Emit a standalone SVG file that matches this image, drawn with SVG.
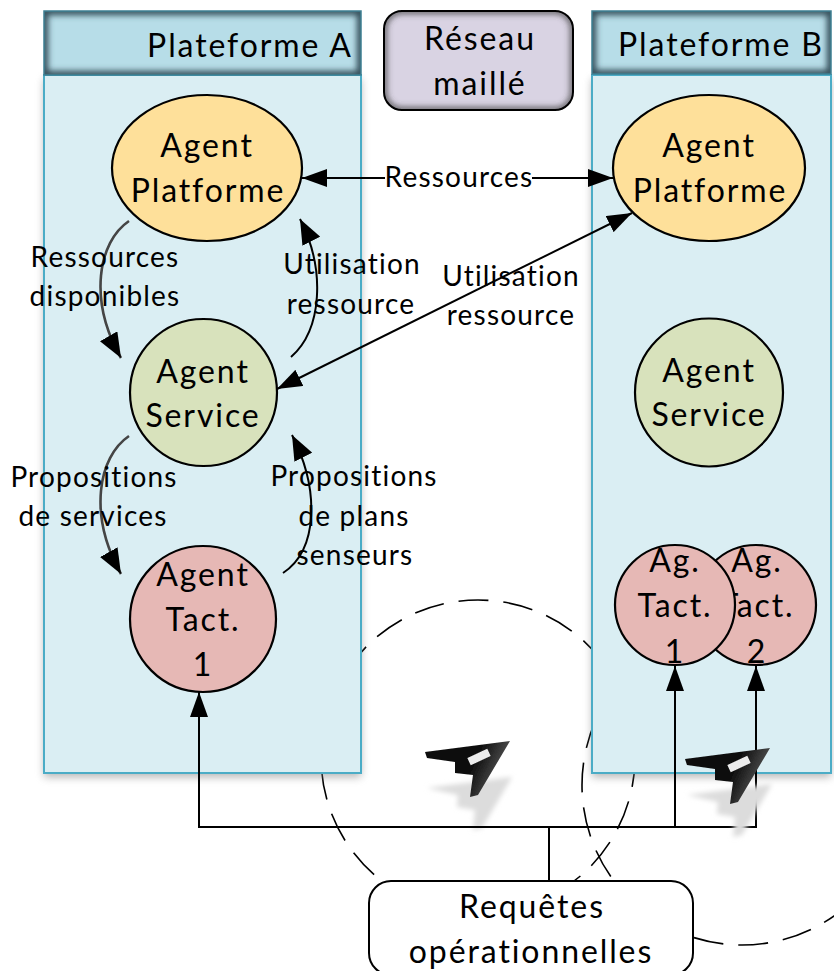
<svg xmlns="http://www.w3.org/2000/svg" width="834" height="971" viewBox="0 0 834 971">
<style>
text{font-family:"Lato","Liberation Sans",sans-serif;fill:#000;text-anchor:middle}
.n{font-size:32px;letter-spacing:1.9px}.l{font-size:28px;letter-spacing:1.2px}
.node{stroke:#000;stroke-width:2.2}
.dash{fill:none;stroke:#000;stroke-width:1.6;stroke-dasharray:30 15}
.c{fill:none;stroke:#000;stroke-width:2}
.cg{fill:none;stroke:#444;stroke-width:2.6;filter:url(#soft)}
.body{fill:#daeef3;stroke:#4bacc6;stroke-width:2}
</style>
<defs>
<marker id="a" viewBox="0 0 25 18" refX="25" refY="9" markerWidth="25" markerHeight="18" markerUnits="userSpaceOnUse" orient="auto-start-reverse"><path d="M0 0L25 9L0 18Z" fill="#000"/></marker>
<marker id="b" viewBox="0 0 25 20" refX="25" refY="10" markerWidth="25" markerHeight="20" markerUnits="userSpaceOnUse" orient="auto"><path d="M0 0L25 10L0 20Z" fill="#000"/></marker>
<filter id="soft" x="-30%" y="-10%" width="160%" height="120%"><feGaussianBlur stdDeviation="0.7"/></filter>
<filter id="sh" x="-10%" y="-10%" width="120%" height="120%"><feGaussianBlur stdDeviation="4"/></filter>
<filter id="in" x="-10%" y="-20%" width="120%" height="140%"><feGaussianBlur stdDeviation="3"/></filter>
<filter id="ps" x="-30%" y="-30%" width="160%" height="160%"><feGaussianBlur stdDeviation="2.500"/></filter>
<filter id="ab" x="-10%" y="-10%" width="120%" height="120%"><feGaussianBlur stdDeviation="0.5"/></filter>
<clipPath id="ca"><rect x="44" y="11" width="317" height="64"/></clipPath>
<clipPath id="cb"><rect x="592" y="11" width="239" height="63"/></clipPath>
<clipPath id="cr"><rect x="384" y="11" width="189" height="99" rx="18"/></clipPath>
<linearGradient id="pl" x1="0" y1="0" x2="1" y2="0.3"><stop offset="0" stop-color="#0a0a0a"/><stop offset=".65" stop-color="#111"/><stop offset="1" stop-color="#555"/></linearGradient>
<g id="plane">
<path d="M427 788L512 777L482 828L473 830L475 810L457 807L458 795Z" fill="#dcdcdc" filter="url(#ps)"/>
<path d="M425 752L510 741L478 795L470 797L473 775L455 773L455 762L427 758Z" fill="url(#pl)" filter="url(#ab)"/>
<rect x="468" y="753" width="22" height="8" fill="#ececec" transform="rotate(-25 479 757)" filter="url(#ab)"/>
</g>
</defs>
<g id="zones">
<circle class="dash" cx="478" cy="757" r="157"/>
<circle class="dash" cx="742" cy="785" r="160"/>
</g>
<g id="plateforme-a">
<rect x="44" y="75" width="317" height="698" fill="#777" opacity=".55" filter="url(#sh)" transform="translate(0 4)"/>
<rect class="body" x="44" y="75" width="317" height="698"/>
<rect x="44" y="11" width="317" height="64" fill="#b7dde8"/>
<rect x="44" y="11" width="317" height="64" fill="none" stroke="#2f4a54" stroke-width="8" filter="url(#in)" clip-path="url(#ca)"/>
<rect x="44" y="11" width="317" height="64" fill="none" stroke="#3d7f92" stroke-width="1.5"/>
<text class="n" x="250" y="57">Plateforme A</text>
</g>
<g id="plateforme-b">
<rect x="592" y="75" width="239" height="698" fill="#777" opacity=".55" filter="url(#sh)" transform="translate(0 4)"/>
<rect class="body" x="592" y="75" width="239" height="698"/>
<rect x="592" y="11" width="239" height="63" fill="#b7dde8"/>
<rect x="592" y="11" width="239" height="63" fill="none" stroke="#2f4a54" stroke-width="8" filter="url(#in)" clip-path="url(#cb)"/>
<rect x="592" y="11" width="239" height="63" fill="none" stroke="#3d7f92" stroke-width="1.5"/>
<text class="n" x="721" y="56">Plateforme B</text>
</g>
<g id="reseau">
<rect x="384" y="11" width="189" height="99" rx="18" fill="#d9d3e3"/>
<rect x="384" y="11" width="189" height="99" rx="18" fill="none" stroke="#444" stroke-width="5" filter="url(#in)" clip-path="url(#cr)"/>
<rect x="384" y="11" width="189" height="99" rx="18" fill="none" stroke="#000" stroke-width="2"/>
<text class="n" x="480" y="50">Réseau</text><text class="n" x="480" y="95">maillé</text>
</g>
<g id="agent-platforme-a"><ellipse class="node" cx="207" cy="168" rx="95" ry="73" fill="#fee09a"/><text class="n" x="207" y="157">Agent</text><text class="n" x="208" y="202">Platforme</text></g>
<g id="agent-service-a"><circle class="node" cx="203.500" cy="392.500" r="73.500" fill="#d8e2bc"/><text class="n" x="203" y="383">Agent</text><text class="n" x="203" y="427">Service</text></g>
<g id="agent-tact-a"><circle class="node" cx="203" cy="619" r="73" fill="#e6b8b5"/><text class="n" x="203" y="586">Agent</text><text class="n" x="203" y="631">Tact.</text><text class="n" x="203" y="676">1</text></g>
<g id="agent-platforme-b"><ellipse class="node" cx="709" cy="168" rx="96" ry="73" fill="#fee09a"/><text class="n" x="709" y="157">Agent</text><text class="n" x="710" y="202">Platforme</text></g>
<g id="agent-service-b"><circle class="node" cx="709" cy="392.500" r="74" fill="#d8e2bc"/><text class="n" x="709" y="382">Agent</text><text class="n" x="709" y="426">Service</text></g>
<g id="ag-tact-2"><circle class="node" cx="756" cy="605" r="60" fill="#e6b8b5"/><text class="n" x="757" y="572">Ag.</text><text class="n" x="757" y="617">Tact.</text><text class="n" x="757" y="663">2</text></g>
<g id="ag-tact-1"><circle class="node" cx="675" cy="605" r="60" fill="#e6b8b5"/><text class="n" x="675" y="572">Ag.</text><text class="n" x="675" y="617">Tact.</text><text class="n" x="675" y="663">1</text></g>
<use id="avion-1" href="#plane"/>
<g id="connectors">
<path class="c" d="M302 178H613" marker-start="url(#a)" marker-end="url(#a)"/>
<path class="c" d="M277 389L632 213" marker-start="url(#a)" marker-end="url(#a)"/>
<path class="cg" d="M129 221C98 242 88 300 121 358"/>
<path class="c" d="M129 221C98 242 88 300 121 358" stroke-opacity="0" marker-end="url(#b)"/>
<path class="c" d="M291 357C322 330 326 270 300 219" marker-end="url(#b)"/>
<path class="cg" d="M129 436C98 457 88 515 121 574"/>
<path class="c" d="M129 436C98 457 88 515 121 574" stroke-opacity="0" marker-end="url(#b)"/>
<path class="c" d="M283 573C318 550 320 490 292 435" marker-end="url(#b)"/>
<path class="c" d="M199 692V827H756V666" marker-start="url(#a)" marker-end="url(#a)"/>
<path class="c" d="M675 827V666" marker-end="url(#a)"/>
<path class="c" d="M549 827V881"/>
</g>
<use id="avion-2" href="#plane" transform="translate(260 7)"/>
<g id="requetes">
<rect x="369" y="881" width="324" height="94" rx="22" fill="#fff" stroke="#000" stroke-width="2"/>
<text class="n" x="532" y="918">Requêtes</text><text class="n" x="531" y="963">opérationnelles</text>
</g>
<g id="labels">
<rect x="385" y="160" width="147" height="36" fill="#fff"/>
<text class="l" x="459" y="187">Ressources</text>
<text class="l" x="105" y="267">Ressources</text><text class="l" x="105" y="306">disponibles</text>
<text class="l" x="352" y="274">Utilisation</text><text class="l" x="351" y="314">ressource</text>
<text class="l" x="511" y="286">Utilisation</text><text class="l" x="511" y="325">ressource</text>
<text class="l" x="94" y="487">Propositions</text><text class="l" x="93" y="526">de services</text>
<text class="l" x="354" y="486">Propositions</text><text class="l" x="354" y="526">de plans</text><text class="l" x="355" y="565">senseurs</text>
</g>
</svg>
